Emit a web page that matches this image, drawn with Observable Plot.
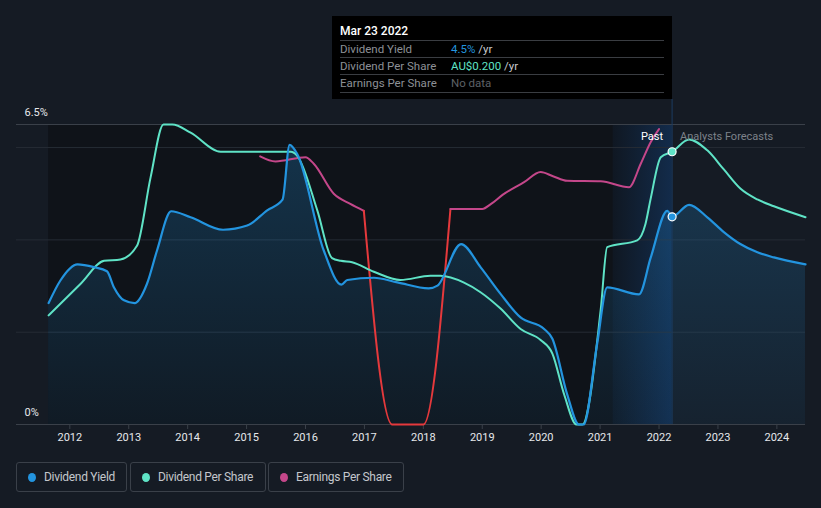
<!DOCTYPE html>
<html>
<head>
<meta charset="utf-8">
<script src="https://cdn.jsdelivr.net/npm/d3@7"></script>
<script src="https://cdn.jsdelivr.net/npm/@observablehq/plot@0.6"></script>
<style>
  html, body { margin: 0; padding: 0; background: #151b24; }
  body { width: 821px; height: 508px; overflow: hidden; font-family: Roboto, "Noto Sans", sans-serif; }
  #wrap { position: relative; width: 821px; height: 508px; }
  #chart { position: absolute; left: 0; top: 0; }
  .tip { position: absolute; left: 332px; top: 16px; width: 340px; height: 83px; background: #000; }
  .tip .title { position: absolute; left: 8px; top: 8px; color: #fff; font-size: 12px; font-weight: 500; }
  .tip .row { position: absolute; left: 8px; width: 324px; height: 17px; border-top: 1px solid #3a3d42; font-size: 11.5px; line-height: 16px; }
  .tip .row .lab { position: absolute; left: 0; color: #8d9096; }
  .tip .row .val { position: absolute; left: 111px; color: #c9cbcf; }
  .tip .row.last { border-bottom: 1px solid #3a3d42; }
  .legend { position: absolute; top: 462px; left: 0; }
  .legend .item { position: absolute; top: 0; height: 28px; border: 1px solid #3a4049; border-radius: 3px; box-sizing: content-box; }
  .legend .dot { position: absolute; left: 11px; top: 10px; width: 8px; height: 9px; border-radius: 50%; }
  .legend .txt { position: absolute; left: 27px; top: 0; line-height: 28px; font-size: 12px; color: #c4c7cc; letter-spacing: -0.3px; white-space: nowrap; }
</style>
</head>
<body>
<div id="wrap">
  <div id="chart"></div>
  <div class="tip">
    <div class="title">Mar 23 2022</div>
    <div class="row" style="top:24px"><span class="lab">Dividend Yield</span><span class="val"><span style="color:#2394df">4.5%</span> /yr</span></div>
    <div class="row" style="top:41px"><span class="lab">Dividend Per Share</span><span class="val"><span style="color:#5fe3c6">AU$0.200</span> /yr</span></div>
    <div class="row last" style="top:58px"><span class="lab">Earnings Per Share</span><span class="val" style="color:#5d6066">No data</span></div>
  </div>
  <div class="legend">
    <div class="item" style="left:16px;width:109px"><div class="dot" style="background:#2394df"></div><div class="txt">Dividend Yield</div></div>
    <div class="item" style="left:130px;width:134px"><div class="dot" style="background:#5fe3c6"></div><div class="txt">Dividend Per Share</div></div>
    <div class="item" style="left:268px;width:134px"><div class="dot" style="background:#c4478a"></div><div class="txt">Earnings Per Share</div></div>
  </div>
</div>
<script>
// ---------- data ----------
const tickYears = [2012, 2013, 2014, 2015, 2016, 2017, 2018, 2019, 2020, 2021, 2022, 2023, 2024];
const yLabels = [0, 6.5];
const gridValues = [2, 4, 6];
const today = 2022.222;          // Mar 23 2022
const todayYield = 4.5;          // %
const todayDps = 0.200;          // AU$

// Dividend yield (%)
const yieldT = [2011.64, 2011.84, 2012.13, 2012.41, 2012.63, 2012.75, 2012.92, 2013.10, 2013.31, 2013.48, 2013.72,
  2014.05, 2014.60, 2015.01, 2015.35, 2015.61, 2015.73, 2015.86, 2016.31, 2016.61, 2016.71, 2017.16, 2017.56,
  2018.09, 2018.24, 2018.64, 2018.97, 2019.31, 2019.65, 2020.05, 2020.19, 2020.44, 2020.64, 2020.72, 2020.95,
  2021.12, 2021.66, 2021.86, 2022.14, 2022.222, 2022.51, 2022.82, 2023.10, 2023.38, 2023.67, 2023.95, 2024.486];
const yieldV = [2.63, 3.12, 3.47, 3.41, 3.32, 2.97, 2.69, 2.63, 3.05, 3.77, 4.62,
  4.49, 4.22, 4.31, 4.64, 4.87, 6.06, 5.86, 3.77, 3.03, 3.13, 3.18, 3.08,
  2.95, 3.01, 3.91, 3.41, 2.83, 2.32, 2.07, 1.86, 0.66, 0.0, 0.0, 1.75,
  2.97, 2.82, 3.62, 4.63, 4.5, 4.76, 4.49, 4.17, 3.91, 3.73, 3.62, 3.47];

// Dividend per share (AU$)
const dpsT = [2011.64, 2012.18, 2012.58, 2012.86, 2013.14, 2013.37, 2013.59, 2013.74, 2014.05, 2014.56, 2015.75,
  2015.86, 2016.20, 2016.45, 2016.60, 2016.79, 2017.16, 2017.61, 2018.12, 2018.29, 2018.69, 2018.97, 2019.31,
  2019.65, 2019.99, 2020.19, 2020.39, 2020.60, 2020.70, 2021.01, 2021.12, 2021.63, 2021.77, 2021.86, 2022.03,
  2022.222, 2022.51, 2022.82, 2023.10, 2023.38, 2023.67, 2023.95, 2024.486];
const dpsV = [0.080, 0.103, 0.120, 0.121, 0.131, 0.181, 0.220, 0.220, 0.214, 0.200, 0.200,
  0.197, 0.157, 0.122, 0.120, 0.119, 0.112, 0.106, 0.109, 0.109, 0.104, 0.097, 0.085,
  0.070, 0.062, 0.052, 0.022, 0.0, 0.0, 0.084, 0.130, 0.135, 0.147, 0.166, 0.196,
  0.200, 0.209, 0.201, 0.187, 0.173, 0.165, 0.160, 0.152];

// Earnings per share (relative chart units)
const epsT = [2015.23, 2015.49, 2016.00, 2016.14, 2016.48, 2016.76, 2016.99, 2017.47, 2018.00, 2018.46,
  2019.00, 2019.15, 2019.35, 2019.71, 2019.99, 2020.20, 2020.44, 2021.01, 2021.49, 2021.69, 2021.86, 2022.00];
const epsV = [5.81, 5.70, 5.79, 5.65, 5.00, 4.78, 4.63, 0.0, 0.0, 4.67,
  4.67, 4.78, 4.98, 5.25, 5.47, 5.38, 5.28, 5.27, 5.14, 5.65, 6.12, 6.40];
const epsLoss = [2016.99, 2018.46];   // period drawn as loss

// DPS is drawn on the chart's own secondary scale: AU$ -> chart units
const dpsScale = 29.55;

// ---------- build tables ----------
const yieldData = yieldT.map((t, i) => ({t, v: yieldV[i]}));
const dpsData = dpsT.map((t, i) => ({t, v: dpsV[i] * dpsScale}));
const epsData = epsT.map((t, i) => ({t, v: epsV[i]}));
const epsA = epsData.filter(d => d.t <= epsLoss[0]);
const epsB = epsData.filter(d => d.t >= epsLoss[0] && d.t <= epsLoss[1]);
const epsC = epsData.filter(d => d.t >= epsLoss[1]);

const xDomain = [2011.095, yieldT[yieldT.length - 1]];
const curve = "monotone-x";

const chart = Plot.plot({
  width: 821,
  height: 450,
  marginLeft: 16,
  marginRight: 16,
  marginTop: 124,
  marginBottom: 26,
  x: {domain: xDomain, axis: null},
  y: {domain: [0, 6.5], axis: null},
  style: {background: "transparent", overflow: "visible", fontFamily: "Roboto, sans-serif"},
  marks: [
    // past (darker) region
    Plot.rect([0], {x1: yieldT[0], x2: today, y1: 0, y2: 6.5, fill: "#0f1319"}),
    // last year highlight
    Plot.rect([0], {x1: today - 1, x2: today, y1: 0, y2: 6.5, fill: "url(#pastGrad)"}),
    // grid
    Plot.ruleY(gridValues, {stroke: "#262c35", strokeWidth: 1}),
    Plot.ruleY([6.5], {stroke: "#3a4049", strokeWidth: 1}),
    // area under dividend yield
    Plot.areaY(yieldData, {x: "t", y: "v", curve, fill: "url(#areaGrad)"}),
    // axis line and ticks
    Plot.ruleY([0], {stroke: "#3a4049", strokeWidth: 1}),
    Plot.ruleX(tickYears, {x: d => d, y1: 0, y2: 0, insetBottom: -5, stroke: "#3a4049"}),
    Plot.text(tickYears, {x: d => d, y: 0, dy: 13, text: d => String(d), fill: "#e6e8eb", fontSize: 11}),
    // y labels
    Plot.text(yLabels, {x: xDomain[0], y: d => d, dx: 8, dy: -12, text: d => d + "%", textAnchor: "start", fill: "#e6e8eb", fontSize: 11}),
    // today rule
    Plot.ruleX([today], {stroke: "#1b3c60", strokeWidth: 1, insetTop: -25}),
    // series
    Plot.line(epsA, {x: "t", y: "v", curve, stroke: "#c4478a", strokeWidth: 2}),
    Plot.line(epsB, {x: "t", y: "v", curve, stroke: "#e5393c", strokeWidth: 2}),
    Plot.line(epsC, {x: "t", y: "v", curve, stroke: "#c4478a", strokeWidth: 2}),
    Plot.line(dpsData, {x: "t", y: "v", curve, stroke: "#5fe3c6", strokeWidth: 2}),
    Plot.line(yieldData, {x: "t", y: "v", curve, stroke: "#2394df", strokeWidth: 2.2}),
    // today dots
    Plot.dot([todayDps * dpsScale], {x: today, y: d => d, r: 4, fill: "#5fe3c6", stroke: "#fff", strokeWidth: 1.2}),
    Plot.dot([todayYield], {x: today, y: d => d, r: 4, fill: "#2394df", stroke: "#fff", strokeWidth: 1.2}),
    // past / forecast labels
    Plot.text(["Past"], {x: today, y: 6.5, dx: -9, dy: 12, text: d => d, textAnchor: "end", fill: "#ffffff", fontSize: 11}),
    Plot.text(["Analysts Forecasts"], {x: today, y: 6.5, dx: 8, dy: 12, text: d => d, textAnchor: "start", fill: "#7d828a", fontSize: 11})
  ]
});

// gradients
const svg = d3.select(chart);
const defs = svg.insert("defs", ":first-child");
const ag = defs.append("linearGradient").attr("id", "areaGrad").attr("x1", 0).attr("y1", 0).attr("x2", 0).attr("y2", 1);
ag.append("stop").attr("offset", "0%").attr("stop-color", "#2394df").attr("stop-opacity", 0.25);
ag.append("stop").attr("offset", "100%").attr("stop-color", "#2394df").attr("stop-opacity", 0.06);
const pg = defs.append("linearGradient").attr("id", "pastGrad").attr("x1", 0).attr("y1", 0).attr("x2", 1).attr("y2", 0);
pg.append("stop").attr("offset", "0%").attr("stop-color", "#1a5fb4").attr("stop-opacity", 0.06);
pg.append("stop").attr("offset", "100%").attr("stop-color", "#1a5fb4").attr("stop-opacity", 0.32);

document.getElementById("chart").appendChild(chart);
</script>
</body>
</html>
